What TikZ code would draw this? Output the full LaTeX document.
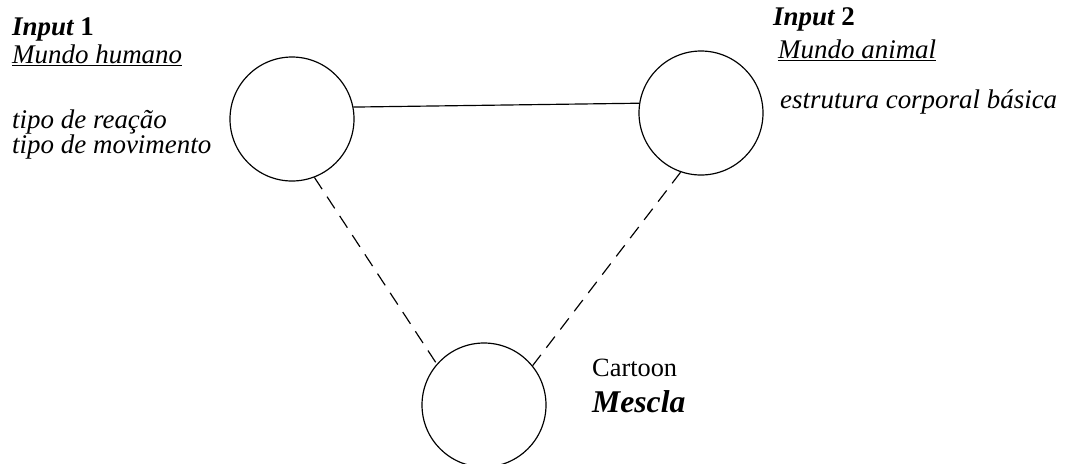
\documentclass[tikz,border=0pt]{standalone}
\usepackage{fontspec}
\setmainfont{Liberation Serif}
\usetikzlibrary{positioning}
\begin{document}
\begin{tikzpicture}[x=0.03cm,y=-0.03cm,
    espaco/.style={circle, draw, line width=1pt, minimum size=3.72cm, inner sep=0pt},
    rotulo/.style={anchor=base west, inner sep=0pt, font=\fontsize{23}{25}\selectfont\itshape},
    tracejado/.style={line width=1pt, dash pattern=on 0.42cm off 0.27cm}]
    \useasboundingbox (0,0) rectangle (1069,463);
    % espacos mentais
    \node[espaco] (hum) at (292,119) {};
    \node[espaco] (ani) at (701,113) {};
    \node[espaco] (mes) at (484,405) {};
    % ligacoes entre os espacos
    \draw[line width=1pt] (hum.11) -- (ani.171);
    \draw[tracejado] (hum.-69) -- (mes.139);
    \draw[tracejado] (ani.-109) -- (mes.39);
    % input 1
    \node[rotulo] (in1) at (12,35) {\textbf{Input \upshape 1}};
    \node[rotulo] (mh) at (12,63) {\underline{Mundo humano}};
    \node[rotulo] (tr) at (12,128) {tipo de reação};
    \node[rotulo] (tm) at (12,153) {tipo de movimento};
    % input 2
    \node[rotulo] (in2) at (773,25) {\textbf{Input \upshape 2}};
    \node[rotulo] (ma) at (778,58) {\underline{Mundo animal}};
    \node[rotulo] (ec) at (780,108) {estrutura corporal básica};
    % mescla
    \node[rotulo, font=\fontsize{22.5}{24}\selectfont] (ct) at (592,376) {Cartoon};
    \node[rotulo, font=\fontsize{27}{29}\selectfont\bfseries\itshape] (me) at (592,412) {Mescla};
\end{tikzpicture}
\end{document}
